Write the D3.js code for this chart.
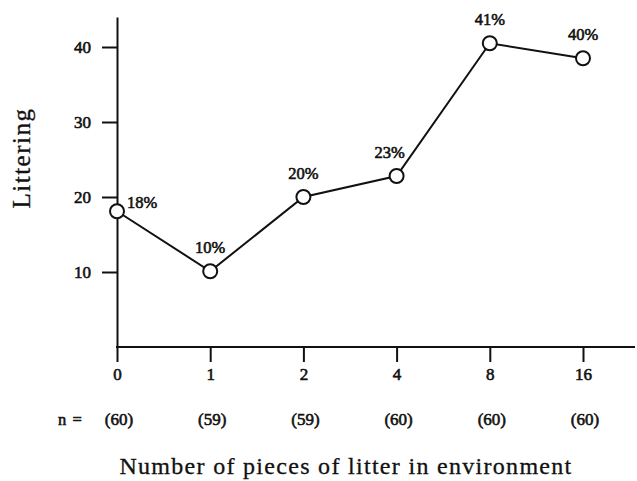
<!DOCTYPE html>
<html>
<head>
<meta charset="utf-8">
<script src="https://cdn.jsdelivr.net/npm/d3@7"></script>
<style>
  body { margin: 0; background: #fff; }
  svg { display: block; }
  text { font-family: "Liberation Serif", "DejaVu Serif", serif; fill: #111; }
  .lbl { stroke: #111; stroke-width: 0.6px; }
</style>
</head>
<body>
<div id="my_dataviz"></div>
<script>
// data
var categories = ["0", "1", "2", "4", "8", "16"];
var littering = [18.1, 10.1, 20, 22.8, 40.5, 38.5];
var pctLabels = ["18%", "10%", "20%", "23%", "41%", "40%"];
var sampleN = ["(60)", "(59)", "(59)", "(60)", "(60)", "(60)"];
var yTicks = [10, 20, 30, 40];

var W = 637, H = 481;

var svg = d3.select("#my_dataviz")
    .append("svg")
        .attr("width", W)
        .attr("height", H);

// scales
var x = d3.scalePoint()
        .domain(categories)
        .range([117, 583]),
    y = d3.scaleLinear()
        .domain([0, 44])
        .range([347, 17]);

// y axis
var y_axis = svg.append("g")
    .attr("transform", "translate(" + x("0") + ",0)")
    .call(d3.axisLeft(y).tickValues(yTicks).tickSize(15).tickSizeOuter(0).tickPadding(11));
y_axis.select(".domain").attr("stroke-width", 2).attr("stroke", "#111");
y_axis.selectAll(".tick line").attr("stroke-width", 2).attr("stroke", "#111");
y_axis.selectAll(".tick text")
    .attr("class", "lbl")
    .attr("font-size", "17px")
    .attr("font-family", "Liberation Serif, serif")
    .attr("fill", "#111");

// x axis
var x_axis = svg.append("g")
    .attr("transform", "translate(0," + y(0) + ")")
    .call(d3.axisBottom(x).tickSize(15).tickSizeOuter(0).tickPadding(6));
x_axis.select(".domain").remove();
x_axis.selectAll(".tick line").attr("stroke-width", 2).attr("stroke", "#111");
x_axis.selectAll(".tick text")
    .attr("class", "lbl")
    .attr("font-size", "17px")
    .attr("font-family", "Liberation Serif, serif")
    .attr("fill", "#111");
svg.append("line")
    .attr("x1", x("0") - 1)
    .attr("x2", W - 2)
    .attr("y1", y(0))
    .attr("y2", y(0))
    .attr("stroke", "#111")
    .attr("stroke-width", 2);

// line
var line = d3.line()
    .x(function(d, i) { return x(categories[i]); })
    .y(function(d) { return y(d); });

svg.append("path")
    .datum(littering)
    .attr("fill", "none")
    .attr("stroke", "#111")
    .attr("stroke-width", 2)
    .attr("d", line);

// points
svg.selectAll("circle.pt")
    .data(littering)
    .enter()
    .append("circle")
        .attr("class", "pt")
        .attr("cx", function(d, i) { return x(categories[i]); })
        .attr("cy", function(d) { return y(d); })
        .attr("r", 7)
        .attr("fill", "#fff")
        .attr("stroke", "#111")
        .attr("stroke-width", 2);

// percent labels
svg.selectAll("text.pct")
    .data(littering)
    .enter()
    .append("text")
        .attr("class", "pct lbl")
        .attr("x", function(d, i) { return x(categories[i]) + (i == 0 ? 10 : (i == 3 ? -7 : 0)); })
        .attr("y", function(d, i) { return y(d) + (i == 0 ? -3 : -18); })
        .attr("text-anchor", function(d, i) { return i == 0 ? "start" : "middle"; })
        .attr("font-size", "16.5px")
        .text(function(d, i) { return pctLabels[i]; });

// n row
svg.append("text")
    .attr("class", "lbl")
    .attr("x", 58)
    .attr("y", 425)
    .attr("font-size", "16.5px")
    .attr("letter-spacing", "1px")
    .text("n =");
svg.selectAll("text.n")
    .data(sampleN)
    .enter()
    .append("text")
        .attr("class", "n lbl")
        .attr("x", function(d, i) { return x(categories[i]) + 2; })
        .attr("y", 425)
        .attr("text-anchor", "middle")
        .attr("font-size", "17px")
        .text(function(d) { return d; });

// axis titles
svg.append("text")
    .attr("x", 346)
    .attr("y", 474)
    .attr("text-anchor", "middle")
    .attr("font-size", "24px")
    .attr("letter-spacing", "1.3px")
    .attr("stroke", "#111")
    .attr("stroke-width", 0.3)
    .text("Number of pieces of litter in environment");

svg.append("text")
    .attr("transform", "rotate(-90)")
    .attr("x", -158)
    .attr("y", 30)
    .attr("text-anchor", "middle")
    .attr("font-size", "25px")
    .attr("letter-spacing", "1.5px")
    .attr("stroke", "#111")
    .attr("stroke-width", 0.3)
    .text("Littering");
</script>
</body>
</html>
